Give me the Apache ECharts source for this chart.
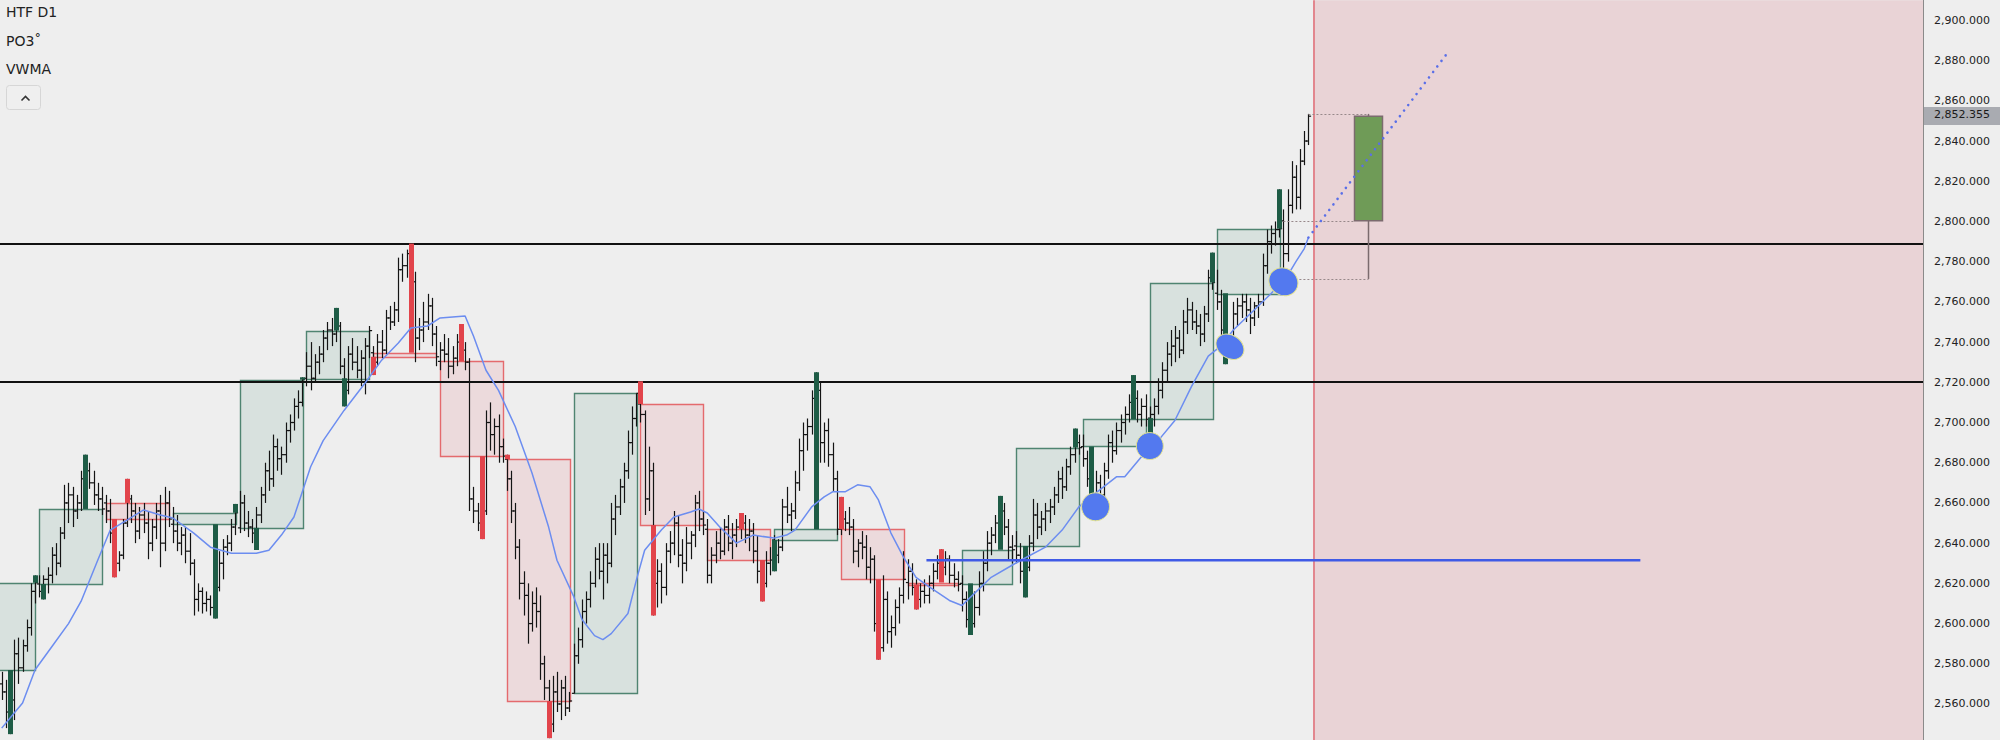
<!DOCTYPE html>
<html><head><meta charset="utf-8">
<script src="https://cdn.jsdelivr.net/npm/echarts@6.0.0/dist/echarts.min.js"></script>
<style>html,body{margin:0;padding:0;background:#eeeeee}#c{width:2000px;height:740px}</style>
</head><body><div id="c"></div><script>
// ---------- DATA ----------
// lower-timeframe bars, one per index: [open, high, low, close]
const bars = [
// day 1 (partial)
[2570,2576,2562,2566],[2566,2572,2548,2556],[2556,2566,2545,2562],[2562,2592,2552,2585],[2585,2593,2570,2578],
[2578,2592,2576,2589],[2589,2602,2586,2598],[2598,2620,2594,2616],[2616,2624,2610,2620.3],
// day 2
[2619.7,2624,2613,2616],[2616,2624,2612,2622],[2622,2628,2615,2624],[2624,2638,2620,2634],[2634,2640,2624,2630],
[2630,2648,2628,2645],[2645,2669,2642,2660],[2660,2670,2650,2664],[2664,2668,2648,2656],[2656,2664,2652,2660],
[2660,2676,2656,2672],[2672,2684,2662,2676],[2676,2680,2667,2670],[2670,2676,2659,2664],[2664,2670,2656,2662],[2662,2668,2654,2657],
// day 3
[2660,2664,2650,2656],[2656,2662,2640,2645],[2645,2650,2623,2630],[2630,2636,2626,2634],[2634,2652,2632,2650],
[2650,2672,2648,2662],[2662,2664,2650,2656],[2656,2660,2640,2646],[2646,2658,2642,2654],[2654,2660,2645,2650],
[2650,2656,2632,2640],[2640,2652,2636,2648],[2648,2660,2642,2656],[2656,2664,2628,2640],[2640,2668,2636,2660],[2660,2666,2648,2652],
// day 4
[2649.4,2658,2640,2646],[2646,2654,2636,2640],[2640,2648,2634,2644],[2644,2648,2630,2636],[2636,2645,2624,2630],
[2630,2632,2604,2612],[2612,2620,2606,2616],[2616,2618,2605,2610],[2610,2616,2606,2612],[2612,2614,2604,2608],
[2608,2622,2602.5,2618],[2618,2636,2616,2630],[2630,2642,2622,2638],[2638,2644,2634,2640],[2640,2652,2636,2648],[2648,2659.5,2644,2655.1],
// day 5
[2647.6,2666,2645,2660],[2660,2664,2646,2650],[2650,2656,2643,2648],[2648,2652,2640,2645],[2645,2658,2636.6,2654],
[2654,2668,2650,2664],[2664,2680,2660,2676],[2676,2686,2666,2672],[2672,2694,2668,2688],[2688,2692,2676,2682],
[2682,2688,2674,2684],[2684,2700,2680,2696],[2696,2704,2690,2700],[2700,2712,2696,2708],[2708,2716,2702,2710],[2710,2722.5,2708,2721.3],
// day 6
[2722,2735,2718,2728],[2728,2740,2716,2722],[2722,2734,2720,2730],[2730,2738,2724,2734],[2734,2746,2730,2742],
[2742,2750,2736,2746],[2746,2752,2738,2744],[2744,2757,2740,2748],[2748,2750,2724,2728],[2728,2732,2708,2716],
[2716,2738,2714,2734],[2734,2742,2726,2730],[2730,2738,2722,2726],[2726,2736,2718,2732],[2732,2742,2714,2738],[2738,2748,2732,2745.7],
// day 7
[2734.7,2738,2723.6,2730],[2730,2744,2728,2740],[2740,2746,2732,2736],[2736,2756,2734,2752],[2752,2758,2746,2750],
[2750,2760,2748,2756],[2756,2782,2750,2776],[2776,2784,2770,2778],[2778,2786,2772,2784],[2784,2789,2766,2770],
[2770,2775,2730,2742],[2742,2752,2736,2746],[2746,2760,2740,2750],[2750,2764,2746,2758],[2758,2762,2738,2744],[2744,2748,2728,2732.7],
// day 8
[2730.4,2740,2726,2736],[2736,2744,2730,2734],[2734,2742,2722,2728],[2728,2738,2724,2732],[2732,2744,2728,2740],
[2740,2749,2732,2736],[2736,2740,2726,2730],[2730,2732,2656,2662],[2662,2668,2650,2656],[2656,2660,2646,2650],
[2650,2662,2642,2656],[2656,2706,2654,2700],[2700,2710,2686,2694],[2694,2702,2684,2698],[2698,2704,2680,2688],[2688,2692,2680,2683.3],
// day 9
[2681.7,2684,2666,2672],[2672,2676,2650,2656],[2656,2660,2632,2638],[2638,2642,2612,2620],[2620,2626,2604,2614],
[2614,2620,2590,2600],[2600,2616,2596,2610],[2610,2618,2598,2606],[2606,2614,2572,2580],[2580,2584,2562,2568],
[2568,2572,2543,2550],[2550,2574,2546,2566],[2566,2576,2556,2560],[2560,2572,2552,2568],[2568,2574,2554,2558],[2558,2566,2556,2561.5],
// day 10
[2565.3,2590,2565.3,2584],[2584,2598,2580,2592],[2592,2612,2588,2606],[2606,2616,2600,2612],[2612,2626,2608,2620],
[2620,2638,2618,2632],[2632,2640,2622,2626],[2626,2640,2612,2634],[2634,2640,2620,2630],[2630,2660,2628,2652],
[2652,2664,2644,2658],[2658,2672,2654,2668],[2668,2680,2660,2676],[2676,2696,2672,2690],[2690,2708,2684,2702],[2702,2714.5,2698,2714.5],
// day 11
[2709.2,2720.5,2700,2704],[2704,2706,2654,2662],[2662,2688,2656,2676],[2676,2680,2604,2620],[2620,2632,2608,2626],
[2626,2630,2610,2618],[2618,2640,2614,2636],[2636,2646,2630,2640],[2640,2656,2634,2650],[2650,2654,2628,2634],
[2634,2642,2620,2630],[2630,2648,2626,2640],[2640,2646,2632,2644],[2644,2664,2638,2660],[2660,2666,2646,2652],[2652,2656,2644,2649],
// day 12
[2646.9,2652,2620,2624],[2624,2638,2620,2634],[2634,2646,2630,2640],[2640,2648,2632,2636],[2636,2652,2634,2648],
[2648,2654,2636,2640],[2640,2650,2632,2644],[2644,2652,2638,2648],[2648,2655,2642,2650],[2650,2654,2640,2644],
[2644,2652,2636,2646],[2646,2650,2630,2636],[2636,2644,2620,2626],[2626,2630,2611,2620],[2620,2636,2618,2630],[2630,2638,2624,2631.6],
// day 13
[2641.6,2644,2626,2634],[2634,2642,2630,2638],[2638,2662,2636,2658],[2658,2668,2650,2654],[2654,2660,2646,2656],
[2656,2676,2652,2670],[2670,2692,2666,2686],[2686,2700,2676,2694],[2694,2702,2686,2698],[2698,2716,2694,2712],
[2712,2725,2704,2716],[2716,2720,2680,2690],[2690,2700,2680,2696],[2696,2702,2678,2684],[2684,2690,2666,2672],[2672,2676,2644,2646.9],
// day 14
[2646.9,2663,2644,2652],[2652,2656,2646,2650],[2650,2658,2644,2648],[2648,2652,2630,2636],[2636,2642,2628,2640],
[2640,2646,2632,2638],[2638,2644,2622,2628],[2628,2638,2620,2632],[2632,2634,2596,2600],[2600,2606,2582,2588],
[2588,2624,2586,2612],[2612,2616,2590,2596],[2596,2604,2588,2598],[2598,2612,2594,2608],[2608,2618,2600,2614],[2614,2636,2610,2622],
// day 15 (short)
[2620.4,2632,2612,2626],[2626,2630,2614,2618],[2618,2622,2607,2612],[2612,2620,2608,2616],[2616,2622,2610,2614],
[2614,2624,2610,2620],[2620,2630,2616,2626],[2626,2634,2622,2630],[2630,2637,2624,2628],[2628,2636,2624,2632],
[2632,2634,2620,2624],[2624,2630,2618,2622],[2622,2626,2616,2619.5],
// day 16 (short)
[2620,2624,2606,2612],[2612,2616,2598,2602],[2602,2608,2594.3,2600],[2600,2616,2598,2608],[2608,2626,2604,2620],
[2620,2636,2616,2630],[2630,2646,2626,2640],[2640,2648,2634,2644],[2644,2654,2640,2650],[2650,2663.5,2646,2656],
[2656,2660,2644,2648],[2648,2652,2632,2638],[2638,2644,2630,2636.7],
// day 17
[2638.6,2646,2630,2634],[2634,2640,2620,2626],[2626,2632,2613,2628],[2628,2644,2626,2640],[2640,2662,2636,2654],
[2654,2660,2642,2648],[2648,2656,2644,2652],[2652,2660,2646,2656],[2656,2662,2650,2658],[2658,2668,2654,2664],
[2664,2676,2660,2672],[2672,2678,2662,2668],[2668,2682,2666,2678],[2678,2688,2674,2684],[2684,2697,2680,2690],[2690,2694,2684,2687.5],
// day 18
[2688,2694,2678,2682],[2682,2686,2668,2672],[2672,2676,2655,2662],[2662,2676,2658,2670],[2670,2674,2660,2664],
[2664,2680,2662,2676],[2676,2694,2672,2690],[2690,2696,2680,2686],[2686,2700,2684,2696],[2696,2704,2690,2700],
[2700,2708,2694,2704],[2704,2714,2700,2710],[2710,2723.6,2706,2712],[2712,2716,2700,2704],[2704,2712,2698,2708],[2708,2714,2698,2701.6],
// day 19
[2702.2,2708,2688,2704],[2704,2712,2698,2708],[2708,2722,2704,2716],[2716,2730,2712,2726],[2726,2740,2720,2734],
[2734,2746,2728,2738],[2738,2748,2730,2742],[2742,2746,2732,2736],[2736,2756,2734,2750],[2750,2762,2744,2756],
[2756,2760,2746,2750],[2750,2756,2744,2748],[2748,2754,2738,2744],[2744,2758,2740,2754],[2754,2776,2750,2772],[2772,2784.5,2766,2769.6],
// day 20
[2764.3,2776,2756,2760],[2760,2766,2740,2746],[2746,2752,2729,2738],[2738,2744,2732,2740],[2740,2760,2736,2754],
[2754,2762,2748,2758],[2758,2764,2752,2760],[2760,2764,2750,2756],[2756,2762,2744,2752],[2752,2760,2748,2758],
[2758,2764,2752,2760],[2760,2784,2758,2778],[2778,2796,2774,2790],[2790,2798,2784,2794],[2794,2800,2788,2796],[2796,2816,2792,2796.4],
// day 21 (current)
[2800.3,2806,2771.4,2784],[2784,2816,2780,2808],[2808,2830,2804,2822],[2822,2828,2806,2812],[2812,2836,2806,2830],
[2830,2845,2828,2840],[2840,2853.5,2838,2852.355]
];

// higher-timeframe (D1) candles: bar range, open, close
const dayStart = [-7, 9, 25, 41, 57, 73, 89, 105, 121, 137, 153, 169, 185, 201, 217, 230, 243, 259, 275, 291, 307];
const dayEnd   = [8, 24, 40, 56, 72, 88, 104, 120, 136, 152, 168, 184, 200, 216, 229, 242, 258, 274, 290, 306, 313];
const dayOpen  = [2576.9, 2619.7, 2660, 2649.4, 2647.6, 2722, 2734.7, 2730.4, 2681.7, 2565.3, 2709.2, 2646.9, 2641.6, 2646.9, 2620.4, 2620, 2638.6, 2688, 2702.2, 2764.3, 2800.3];
const dayClose = [2620.3, 2657, 2652, 2655.1, 2721.3, 2745.7, 2732.7, 2683.3, 2561.5, 2714.5, 2649, 2631.6, 2646.9, 2622, 2619.5, 2636.7, 2687.5, 2701.6, 2769.6, 2796.4, 2852.355];

// VWMA: [bar index, value]
const vwma = [[0,2548],[3,2555.5],[5,2560.5],[8,2577],[12,2588.5],[16,2600],[19,2611],[23,2631.5],[26,2646.5],[30,2651.5],
[34,2656.5],[38,2654],[41,2652.5],[46,2645],[50,2638],[55,2635],[61,2635],[64,2636.5],[67,2644],[70,2653],[74,2678],
[77,2691],[82,2706],[87,2719.5],[91,2731],[95,2739.5],[98,2747],[102,2748],[105,2752],[111,2753],[113,2743],[116,2726],
[119,2716],[123,2698],[127,2675],[131,2648],[133,2631.5],[137,2613.5],[139,2602],[142,2594],[144,2592],[146,2595],
[150,2605],[152,2621.5],[154,2636.5],[158,2646.5],[161,2653],[165,2655.5],[167,2657],[169,2655],[172,2648],[176,2640],
[180,2644],[185,2642.5],[188,2644],[190,2646.5],[194,2658],[197,2663],[199,2665.5],[202,2665.5],[205,2669],[208,2668],
[210,2661.5],[213,2645],[216,2633],[219,2623],[222,2618.5],[227,2611.5],[230,2609],[233,2615],[237,2623],[242,2629],
[245,2632.5],[250,2638],[254,2646.5],[258,2658],[263,2666.5],[267,2673],[269,2673],[273,2683],[277,2691],[281,2701],
[285,2718],[289,2733],[292,2738],[295,2746],[300,2756],[304,2764],[308,2773],[310,2780],[312,2786.5],[313,2792]];
const vwmaProjection = [[313, 2792], [346, 2883]];

// horizontal levels
const levels = [2789, 2720.3];
const supportPrice = 2631.5;
const supportRange = [221.5, 392.5];

// VWMA touch markers: [bar index, price]
const touches = [[262, 2658.1], [275, 2688.3], [294.2, 2737.7], [307, 2770]];

// axis / label texts
const legendTexts = ['HTF D1', 'PO3˚', 'VWMA'];

// ---------- LAYOUT ----------
const X_MIN = -0.407, X_MAX = 460.2;
const FUTURE_START = 314.3;
const PROJ_IDX = 327.3;
const touchShape = [[14, 14, 0], [13.5, 13.5, 0], [15, 11.5, -0.6], [15, 13.5, -0.6]];

const fmt = v => v.toFixed(3).replace(/\B(?=(\d{3})+(?!\d))/g, ',');

const GREEN_FILL = '#d8e1de', GREEN_LINE = '#4f8471', GREEN_WICK = '#1e5c46';
const RED_FILL = '#ecdadc', RED_LINE = '#e46a6d', RED_WICK = '#e2444b';

// derived series data
const barData = bars.map((b, i) => [i, b[0], b[1], b[2], b[3]]);
const nDays = dayStart.length;
const boxData = [], wickData = [];
for (let d = 0; d < nDays - 1; d++) {
  boxData.push([dayStart[d], dayEnd[d], dayOpen[d], dayClose[d]]);
  let hi = -Infinity, lo = Infinity, hiI = 0, loI = 0;
  for (let i = Math.max(0, dayStart[d]); i <= dayEnd[d]; i++) {
    if (bars[i][1] > hi) { hi = bars[i][1]; hiI = i; }
    if (bars[i][2] < lo) { lo = bars[i][2]; loI = i; }
  }
  const top = Math.max(dayOpen[d], dayClose[d]), bot = Math.min(dayOpen[d], dayClose[d]);
  const bull = dayClose[d] >= dayOpen[d] ? 1 : 0;
  if (hi - top > 0.8) wickData.push([hiI, top, hi, bull]);
  if (bot - lo > 0.8) wickData.push([loI, lo, bot, bull]);
}
const L = nDays - 1;
let cHi = -Infinity, cLo = Infinity, cHiI = 0, cLoI = 0;
for (let i = dayStart[L]; i <= dayEnd[L]; i++) {
  if (bars[i][1] > cHi) { cHi = bars[i][1]; cHiI = i; }
  if (bars[i][2] < cLo) { cLo = bars[i][2]; cLoI = i; }
}
const lastClose = bars[dayEnd[L]][3];
const projData = [[PROJ_IDX, dayOpen[L], cHi, cLo, lastClose, cHiI, cLoI, dayStart[L]]];

// ---------- RENDERERS ----------
function renderBox(params, api) {
  const s = api.value(0), e = api.value(1), o = api.value(2), c = api.value(3);
  const p1 = api.coord([s, Math.max(o, c)]), p2 = api.coord([e, Math.min(o, c)]);
  const bull = c >= o;
  return { type: 'rect',
    shape: { x: Math.round(p1[0]) + 0.5, y: Math.round(p1[1]) + 0.5, width: Math.round(p2[0] - p1[0]), height: Math.max(Math.round(p2[1] - p1[1]), 1) },
    style: { fill: bull ? GREEN_FILL : RED_FILL, stroke: bull ? GREEN_LINE : RED_LINE, lineWidth: 1.4 } };
}
function renderBar(params, api) {
  const i = api.value(0);
  const pO = api.coord([i, api.value(1)]), pH = api.coord([i, api.value(2)]),
        pL = api.coord([i, api.value(3)]), pC = api.coord([i, api.value(4)]);
  const x = Math.round(pO[0]) + 0.5;
  const st = { stroke: '#141414', lineWidth: 1.2 };
  return { type: 'group', children: [
    { type: 'line', shape: { x1: x, y1: pH[1], x2: x, y2: pL[1] }, style: st },
    { type: 'line', shape: { x1: x - 2.6, y1: pO[1], x2: x, y2: pO[1] }, style: st },
    { type: 'line', shape: { x1: x, y1: pC[1], x2: x + 2.6, y2: pC[1] }, style: st }
  ] };
}
function renderWick(params, api) {
  const i = api.value(0);
  const p1 = api.coord([i, api.value(2)]), p2 = api.coord([i, api.value(1)]);
  const bull = api.value(3) === 1;
  return { type: 'rect', shape: { x: Math.round(p1[0]) - 2, y: p1[1], width: 5, height: Math.max(p2[1] - p1[1], 1) },
    style: { fill: bull ? GREEN_WICK : RED_WICK } };
}
function renderTouch(params, api) {
  const p = api.coord([api.value(0), api.value(1)]);
  const sh = touchShape[params.dataIndex];
  return { type: 'ellipse', x: p[0], y: p[1], rotation: sh[2],
    shape: { cx: 0, cy: 0, rx: sh[0], ry: sh[1] },
    style: { fill: '#5379ef', stroke: '#e4e38e', lineWidth: 1 } };
}
function renderProj(params, api) {
  const px = api.value(0), o = api.value(1), h = api.value(2), l = api.value(3), c = api.value(4);
  const cx = Math.round(api.coord([px, c])[0]) + 0.5;
  const yO = api.coord([px, o])[1], yH = api.coord([px, h])[1], yL = api.coord([px, l])[1], yC = api.coord([px, c])[1];
  const xHi = api.coord([api.value(5), h])[0], xLo = api.coord([api.value(6), l])[0], xSt = api.coord([api.value(7), o])[0];
  const half = 14;
  const dot = { stroke: '#97888a', lineWidth: 1, lineDash: [2, 2] };
  return { type: 'group', children: [
    { type: 'line', shape: { x1: xHi, y1: Math.round(yH) + 0.5, x2: cx, y2: Math.round(yH) + 0.5 }, style: dot },
    { type: 'line', shape: { x1: xSt, y1: Math.round(yO) + 0.5, x2: cx - half, y2: Math.round(yO) + 0.5 }, style: dot },
    { type: 'line', shape: { x1: xLo, y1: Math.round(yL) + 0.5, x2: cx, y2: Math.round(yL) + 0.5 }, style: dot },
    { type: 'line', shape: { x1: cx, y1: yH, x2: cx, y2: yL }, style: { stroke: '#7b6b6e', lineWidth: 1.5 } },
    { type: 'rect', shape: { x: cx - half, y: Math.min(yO, yC), width: 2 * half, height: Math.abs(yO - yC) },
      style: { fill: '#6f9b57', stroke: '#7b6b6e', lineWidth: 1.5 } }
  ] };
}

// ---------- CHART ----------
const chart = echarts.init(document.getElementById('c'), null, { renderer: 'svg', width: 2000, height: 740 });
chart.setOption({
  animation: false,
  backgroundColor: '#eeeeee',
  grid: { left: 0, right: 77, top: 0.29, bottom: -4.2, containLabel: false, outerBoundsMode: 'none' },
  xAxis: { type: 'value', min: X_MIN, max: X_MAX, show: false },
  yAxis: {
    type: 'value', position: 'right', min: 2540, max: 2910, interval: 20, scale: true,
    splitLine: { show: false }, axisTick: { show: false },
    axisLine: { show: true, onZero: false, lineStyle: { color: '#8a8a8a', width: 1 } },
    axisLabel: { margin: 11, fontFamily: 'DejaVu Sans', fontSize: 11, color: '#222', hideOverlap: false,
      formatter: v => (Math.abs(v % 20) < 1e-6 && v >= 2560 && v <= 2900 ? fmt(v) : '') }
  },
  series: [
    { name: 'zone', type: 'line', data: [], silent: true, z: 0,
      markArea: { silent: true, z: 0, itemStyle: { color: '#e9d3d6' }, data: [[{ xAxis: FUTURE_START }, { xAxis: X_MAX }]] },
      markLine: { silent: true, z: 1, symbol: ['none', 'none'], label: { show: false },
        lineStyle: { color: '#e2868e', width: 2, type: 'solid' }, data: [{ xAxis: FUTURE_START }] } },
    { name: 'htf', type: 'custom', renderItem: renderBox, data: boxData, z: 1, silent: true,
      encode: { x: [0, 1], y: [2, 3] } },
    { name: 'levels', type: 'line', data: [], silent: true, z: 2,
      markLine: { silent: true, z: 2, symbol: ['none', 'none'], label: { show: false },
        lineStyle: { color: '#111111', width: 2, type: 'solid' }, data: levels.map(v => ({ yAxis: v })) } },
    { name: 'bars', type: 'custom', renderItem: renderBar, data: barData, z: 3, silent: true,
      encode: { x: 0, y: [1, 2, 3, 4] } },
    { name: 'wicks', type: 'custom', renderItem: renderWick, data: wickData, z: 4, silent: true,
      encode: { x: 0, y: [1, 2] } },
    { name: 'proj', type: 'custom', renderItem: renderProj, data: projData, z: 4, silent: true,
      encode: { x: 0, y: [1, 2, 3, 4] } },
    { name: 'VWMA', type: 'line', data: vwma, showSymbol: false, silent: true, z: 5,
      lineStyle: { color: '#6c8df0', width: 1.5 } },
    { name: 'VWMA proj', type: 'line', data: vwmaProjection, showSymbol: false, silent: true, z: 5,
      lineStyle: { color: '#5a6fe8', width: 2.6, type: [0.01, 6.9], cap: 'round' } },
    { name: 'support', type: 'line', data: supportRange.map(x => [x, supportPrice]), showSymbol: false, silent: true, z: 5,
      lineStyle: { color: '#3f5ae6', width: 2.5 } },
    { name: 'touches', type: 'custom', renderItem: renderTouch, data: touches, z: 6, silent: true,
      encode: { x: 0, y: 1 } }
  ]
});

const yPrice = chart.convertToPixel({ yAxisIndex: 0 }, lastClose);
const tStyle = { fontFamily: 'DejaVu Sans', fontSize: 14, fill: '#222' };
chart.setOption({
  graphic: [
    { type: 'text', left: 6, top: 5, style: Object.assign({ text: legendTexts[0] }, tStyle) },
    { type: 'text', left: 6, top: 34, style: Object.assign({ text: legendTexts[1] }, tStyle) },
    { type: 'text', left: 6, top: 62, style: Object.assign({ text: legendTexts[2] }, tStyle) },
    { type: 'rect', left: 6, top: 85, shape: { width: 34, height: 24, r: 3 }, style: { fill: '#efefef', stroke: '#d6d6d6', lineWidth: 1 } },
    { type: 'polyline', left: 19, top: 94, shape: { points: [[0, 4], [4, 0], [8, 4]] }, style: { stroke: '#333', lineWidth: 1.6, fill: null } },
    { type: 'rect', left: 1924, top: Math.round(yPrice) - 9, shape: { width: 76, height: 18 }, style: { fill: '#a9abb1' }, z: 100 },
    { type: 'text', left: 1934, top: Math.round(yPrice) - 7, z: 101,
      style: { text: fmt(lastClose), fontFamily: 'DejaVu Sans', fontSize: 11, fill: '#1a1a1a' } }
  ]
});
</script></body></html>
